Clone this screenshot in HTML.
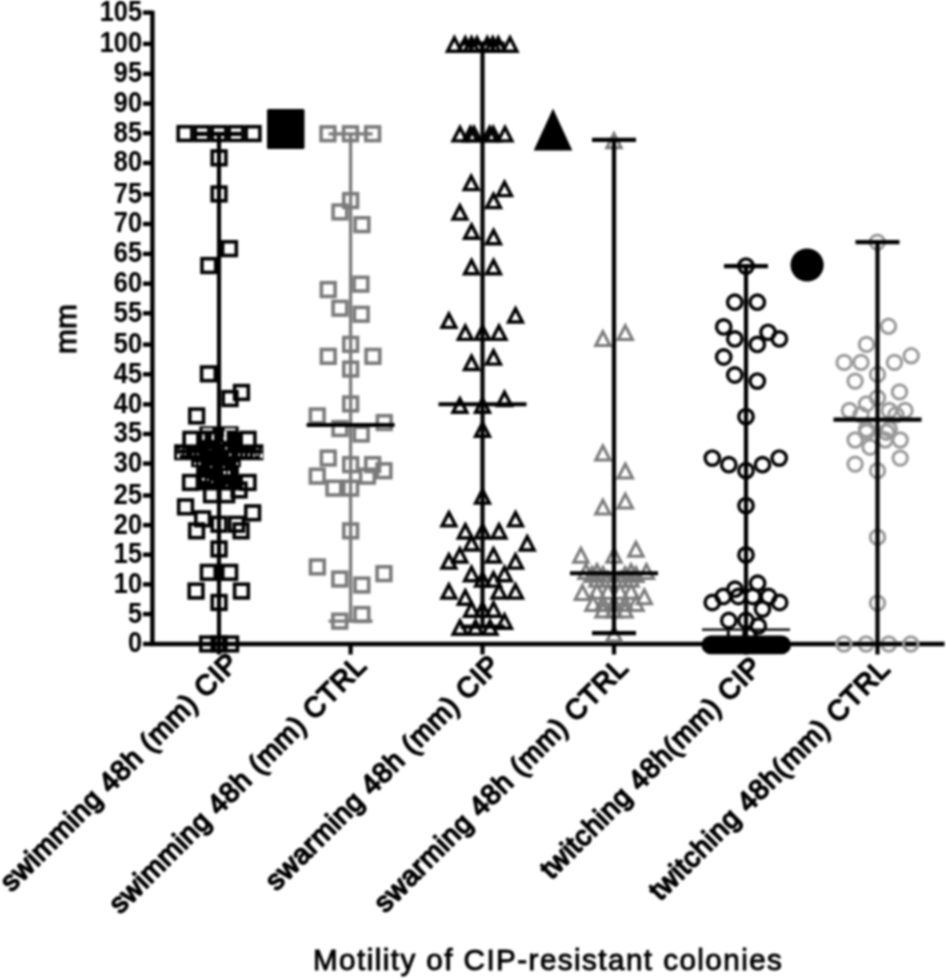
<!DOCTYPE html>
<html><head><meta charset="utf-8"><style>
html,body{margin:0;padding:0;background:#fff;}
body{width:946px;height:979px;overflow:hidden;}
svg{display:block;filter:blur(1px);}
text{font-family:"Liberation Sans",sans-serif;}
</style></head><body>
<svg width="946" height="979" viewBox="0 0 946 979">
<rect width="946" height="979" fill="#fff"/>
<g stroke="#000" stroke-width="4.4" fill="none">
<line x1="152.4" y1="10.7" x2="152.4" y2="645.5"/>
<line x1="151" y1="644" x2="944.5" y2="644"/>
<line x1="143" y1="644.0" x2="152.4" y2="644.0"/>
<line x1="143" y1="614.1" x2="152.4" y2="614.1"/>
<line x1="143" y1="584.4" x2="152.4" y2="584.4"/>
<line x1="143" y1="554.7" x2="152.4" y2="554.7"/>
<line x1="143" y1="525.1" x2="152.4" y2="525.1"/>
<line x1="143" y1="495.5" x2="152.4" y2="495.5"/>
<line x1="143" y1="463.6" x2="152.4" y2="463.6"/>
<line x1="143" y1="434.0" x2="152.4" y2="434.0"/>
<line x1="143" y1="404.4" x2="152.4" y2="404.4"/>
<line x1="143" y1="374.3" x2="152.4" y2="374.3"/>
<line x1="143" y1="344.6" x2="152.4" y2="344.6"/>
<line x1="143" y1="313.3" x2="152.4" y2="313.3"/>
<line x1="143" y1="283.7" x2="152.4" y2="283.7"/>
<line x1="143" y1="253.9" x2="152.4" y2="253.9"/>
<line x1="143" y1="224.0" x2="152.4" y2="224.0"/>
<line x1="143" y1="194.2" x2="152.4" y2="194.2"/>
<line x1="143" y1="163.0" x2="152.4" y2="163.0"/>
<line x1="143" y1="133.2" x2="152.4" y2="133.2"/>
<line x1="143" y1="103.6" x2="152.4" y2="103.6"/>
<line x1="143" y1="73.9" x2="152.4" y2="73.9"/>
<line x1="143" y1="43.9" x2="152.4" y2="43.9"/>
<line x1="143" y1="12.6" x2="152.4" y2="12.6"/>
<line x1="219.0" y1="644" x2="219.0" y2="654.5" stroke-width="4.2"/>
<line x1="350.6" y1="644" x2="350.6" y2="654.5" stroke-width="4.2"/>
<line x1="482.5" y1="644" x2="482.5" y2="654.5" stroke-width="4.2"/>
<line x1="614.0" y1="644" x2="614.0" y2="654.5" stroke-width="4.2"/>
<line x1="746.0" y1="644" x2="746.0" y2="654.5" stroke-width="4.2"/>
<line x1="877.5" y1="644" x2="877.5" y2="654.5" stroke-width="4.2"/>
</g>
<g font-family="Liberation Sans" font-weight="bold" font-size="29.5" text-anchor="end" fill="#000">
<text transform="translate(142 652.4) scale(0.86 1)">0</text>
<text transform="translate(142 622.5) scale(0.86 1)">5</text>
<text transform="translate(142 592.8) scale(0.86 1)">10</text>
<text transform="translate(142 563.1) scale(0.86 1)">15</text>
<text transform="translate(142 533.5) scale(0.86 1)">20</text>
<text transform="translate(142 503.9) scale(0.86 1)">25</text>
<text transform="translate(142 472.0) scale(0.86 1)">30</text>
<text transform="translate(142 442.4) scale(0.86 1)">35</text>
<text transform="translate(142 412.8) scale(0.86 1)">40</text>
<text transform="translate(142 382.7) scale(0.86 1)">45</text>
<text transform="translate(142 353.0) scale(0.86 1)">50</text>
<text transform="translate(142 321.7) scale(0.86 1)">55</text>
<text transform="translate(142 292.1) scale(0.86 1)">60</text>
<text transform="translate(142 262.3) scale(0.86 1)">65</text>
<text transform="translate(142 232.4) scale(0.86 1)">70</text>
<text transform="translate(142 202.6) scale(0.86 1)">75</text>
<text transform="translate(142 171.4) scale(0.86 1)">80</text>
<text transform="translate(142 141.6) scale(0.86 1)">85</text>
<text transform="translate(142 112.0) scale(0.86 1)">90</text>
<text transform="translate(142 82.3) scale(0.86 1)">95</text>
<text transform="translate(142 52.3) scale(0.86 1)">100</text>
<text transform="translate(142 21.0) scale(0.86 1)">105</text>
</g>
<path d="M199.4 426.3H238.6V432H255.4V444.3H263.4V460.3H240.8V467.3H238.9V474.4H255.4V490.6H182.7V474.4H196.1V467.3H191.1V460.3H174.1V444.3H182.7V432H199.4Z" fill="#000"/>
<rect x="184.2" y="432.5" width="13.7" height="13.7" fill="#fff" stroke="#000" stroke-width="3.6"/>
<rect x="241.2" y="432.5" width="13.7" height="13.7" fill="#fff" stroke="#000" stroke-width="3.6"/>
<rect x="183.7" y="475.6" width="13.7" height="13.7" fill="#fff" stroke="#000" stroke-width="3.6"/>
<rect x="241.2" y="475.6" width="13.7" height="13.7" fill="#fff" stroke="#000" stroke-width="3.6"/>
<rect x="202.5" y="428.3" width="10" height="2.2" fill="#fff"/>
<rect x="224.6" y="428.3" width="11" height="2.2" fill="#fff"/>
<rect x="202.3" y="434.5" width="2.2" height="5.5" fill="#fff"/>
<rect x="211.8" y="434.5" width="2.2" height="5.5" fill="#fff"/>
<rect x="224" y="431" width="2.6" height="10" fill="#fff"/>
<rect x="177" y="449" width="2.6" height="9" fill="#fff"/>
<rect x="260" y="449" width="2.6" height="9" fill="#fff"/>
<rect x="180.5" y="448" width="1.6" height="7" fill="#fff"/>
<rect x="184.5" y="449" width="1.4" height="6" fill="#fff"/>
<rect x="192.5" y="450" width="1.4" height="5" fill="#fff"/>
<rect x="197" y="451" width="1.4" height="4" fill="#fff"/>
<rect x="208.5" y="449.5" width="3.6" height="3.4" fill="#fff"/>
<rect x="225.5" y="447" width="1.6" height="3" fill="#fff"/>
<rect x="229.5" y="453" width="1.6" height="3" fill="#fff"/>
<rect x="238.5" y="452" width="1.4" height="4" fill="#fff"/>
<rect x="243" y="451" width="1.4" height="5" fill="#fff"/>
<rect x="248" y="450" width="1.6" height="6" fill="#fff"/>
<rect x="253.3" y="450" width="1.4" height="7" fill="#fff"/>
<rect x="256.5" y="448" width="1.6" height="8" fill="#fff"/>
<rect x="194" y="462.5" width="2" height="2.2" fill="#fff"/>
<rect x="198.5" y="462.5" width="2" height="2.2" fill="#fff"/>
<rect x="210.5" y="466" width="1.4" height="1.6" fill="#fff"/>
<rect x="217" y="466" width="1.4" height="1.6" fill="#fff"/>
<rect x="223" y="466" width="1.4" height="1.6" fill="#fff"/>
<rect x="236.5" y="462.5" width="1.8" height="2.4" fill="#fff"/>
<rect x="223.6" y="471" width="2.2" height="3.2" fill="#fff"/>
<rect x="227.8" y="471" width="2.2" height="3.2" fill="#fff"/>
<rect x="202" y="478" width="2.5" height="2.5" fill="#fff"/>
<rect x="207" y="479" width="1.5" height="1.5" fill="#fff"/>
<rect x="211.5" y="481" width="1.5" height="1.5" fill="#fff"/>
<rect x="219" y="479" width="1.5" height="2.5" fill="#fff"/>
<rect x="213" y="487.5" width="2.5" height="1.5" fill="#fff"/>
<rect x="226" y="485" width="1.5" height="2" fill="#fff"/>
<rect x="219.5" y="442" width="2" height="2" fill="#fff"/>
<rect x="223.5" y="437" width="1.5" height="2.5" fill="#fff"/>
<rect x="178.2" y="126.7" width="13.7" height="13.7" fill="none" stroke="#000" stroke-width="3.6"/>
<rect x="195.2" y="126.7" width="13.7" height="13.7" fill="none" stroke="#000" stroke-width="3.6"/>
<rect x="212.2" y="126.7" width="13.7" height="13.7" fill="none" stroke="#000" stroke-width="3.6"/>
<rect x="229.2" y="126.7" width="13.7" height="13.7" fill="none" stroke="#000" stroke-width="3.6"/>
<rect x="246.2" y="126.7" width="13.7" height="13.7" fill="none" stroke="#000" stroke-width="3.6"/>
<rect x="212.2" y="151.0" width="13.7" height="13.7" fill="none" stroke="#000" stroke-width="3.6"/>
<rect x="212.2" y="187.1" width="13.7" height="13.7" fill="none" stroke="#000" stroke-width="3.6"/>
<rect x="222.6" y="241.8" width="13.7" height="13.7" fill="none" stroke="#000" stroke-width="3.6"/>
<rect x="202.0" y="258.7" width="13.7" height="13.7" fill="none" stroke="#000" stroke-width="3.6"/>
<rect x="201.6" y="367.0" width="13.7" height="13.7" fill="none" stroke="#000" stroke-width="3.6"/>
<rect x="234.6" y="385.6" width="13.7" height="13.7" fill="none" stroke="#000" stroke-width="3.6"/>
<rect x="223.2" y="391.7" width="13.7" height="13.7" fill="none" stroke="#000" stroke-width="3.6"/>
<rect x="189.8" y="409.1" width="13.7" height="13.7" fill="none" stroke="#000" stroke-width="3.6"/>
<rect x="232.2" y="483.1" width="13.7" height="13.7" fill="none" stroke="#000" stroke-width="3.6"/>
<rect x="204.7" y="487.9" width="13.7" height="13.7" fill="none" stroke="#000" stroke-width="3.6"/>
<rect x="219.8" y="487.9" width="13.7" height="13.7" fill="none" stroke="#000" stroke-width="3.6"/>
<rect x="178.7" y="500.0" width="13.7" height="13.7" fill="none" stroke="#000" stroke-width="3.6"/>
<rect x="245.8" y="506.0" width="13.7" height="13.7" fill="none" stroke="#000" stroke-width="3.6"/>
<rect x="195.8" y="512.0" width="13.7" height="13.7" fill="none" stroke="#000" stroke-width="3.6"/>
<rect x="212.2" y="517.4" width="13.7" height="13.7" fill="none" stroke="#000" stroke-width="3.6"/>
<rect x="229.7" y="517.4" width="13.7" height="13.7" fill="none" stroke="#000" stroke-width="3.6"/>
<rect x="189.7" y="524.0" width="13.7" height="13.7" fill="none" stroke="#000" stroke-width="3.6"/>
<rect x="234.2" y="524.0" width="13.7" height="13.7" fill="none" stroke="#000" stroke-width="3.6"/>
<rect x="212.2" y="542.1" width="13.7" height="13.7" fill="none" stroke="#000" stroke-width="3.6"/>
<rect x="201.5" y="565.5" width="13.7" height="13.7" fill="none" stroke="#000" stroke-width="3.6"/>
<rect x="222.8" y="565.5" width="13.7" height="13.7" fill="none" stroke="#000" stroke-width="3.6"/>
<rect x="189.2" y="584.2" width="13.7" height="13.7" fill="none" stroke="#000" stroke-width="3.6"/>
<rect x="234.6" y="584.2" width="13.7" height="13.7" fill="none" stroke="#000" stroke-width="3.6"/>
<rect x="212.2" y="595.6" width="13.7" height="13.7" fill="none" stroke="#000" stroke-width="3.6"/>
<rect x="200.8" y="637.1" width="13.7" height="13.7" fill="none" stroke="#000" stroke-width="3.6"/>
<rect x="212.2" y="637.1" width="13.7" height="13.7" fill="none" stroke="#000" stroke-width="3.6"/>
<rect x="223.7" y="637.1" width="13.7" height="13.7" fill="none" stroke="#000" stroke-width="3.6"/>
<rect x="321.1" y="126.9" width="13.7" height="13.7" fill="none" stroke="#7a7a7a" stroke-width="3.6"/>
<rect x="343.6" y="126.9" width="13.7" height="13.7" fill="none" stroke="#7a7a7a" stroke-width="3.6"/>
<rect x="365.8" y="126.9" width="13.7" height="13.7" fill="none" stroke="#7a7a7a" stroke-width="3.6"/>
<rect x="343.8" y="193.7" width="13.7" height="13.7" fill="none" stroke="#7a7a7a" stroke-width="3.6"/>
<rect x="333.1" y="205.1" width="13.7" height="13.7" fill="none" stroke="#7a7a7a" stroke-width="3.6"/>
<rect x="355.1" y="217.8" width="13.7" height="13.7" fill="none" stroke="#7a7a7a" stroke-width="3.6"/>
<rect x="354.1" y="277.3" width="13.7" height="13.7" fill="none" stroke="#7a7a7a" stroke-width="3.6"/>
<rect x="321.4" y="282.7" width="13.7" height="13.7" fill="none" stroke="#7a7a7a" stroke-width="3.6"/>
<rect x="333.1" y="301.4" width="13.7" height="13.7" fill="none" stroke="#7a7a7a" stroke-width="3.6"/>
<rect x="354.4" y="307.4" width="13.7" height="13.7" fill="none" stroke="#7a7a7a" stroke-width="3.6"/>
<rect x="343.8" y="337.5" width="13.7" height="13.7" fill="none" stroke="#7a7a7a" stroke-width="3.6"/>
<rect x="321.4" y="349.5" width="13.7" height="13.7" fill="none" stroke="#7a7a7a" stroke-width="3.6"/>
<rect x="366.1" y="349.5" width="13.7" height="13.7" fill="none" stroke="#7a7a7a" stroke-width="3.6"/>
<rect x="343.8" y="362.2" width="13.7" height="13.7" fill="none" stroke="#7a7a7a" stroke-width="3.6"/>
<rect x="343.8" y="397.1" width="13.7" height="13.7" fill="none" stroke="#7a7a7a" stroke-width="3.6"/>
<rect x="310.4" y="409.1" width="13.7" height="13.7" fill="none" stroke="#7a7a7a" stroke-width="3.6"/>
<rect x="377.4" y="415.7" width="13.7" height="13.7" fill="none" stroke="#7a7a7a" stroke-width="3.6"/>
<rect x="333.1" y="421.7" width="13.7" height="13.7" fill="none" stroke="#7a7a7a" stroke-width="3.6"/>
<rect x="354.4" y="427.2" width="13.7" height="13.7" fill="none" stroke="#7a7a7a" stroke-width="3.6"/>
<rect x="321.4" y="451.2" width="13.7" height="13.7" fill="none" stroke="#7a7a7a" stroke-width="3.6"/>
<rect x="343.8" y="457.8" width="13.7" height="13.7" fill="none" stroke="#7a7a7a" stroke-width="3.6"/>
<rect x="365.8" y="457.8" width="13.7" height="13.7" fill="none" stroke="#7a7a7a" stroke-width="3.6"/>
<rect x="377.1" y="463.9" width="13.7" height="13.7" fill="none" stroke="#7a7a7a" stroke-width="3.6"/>
<rect x="310.4" y="469.3" width="13.7" height="13.7" fill="none" stroke="#7a7a7a" stroke-width="3.6"/>
<rect x="360.6" y="469.3" width="13.7" height="13.7" fill="none" stroke="#7a7a7a" stroke-width="3.6"/>
<rect x="327.1" y="481.3" width="13.7" height="13.7" fill="none" stroke="#7a7a7a" stroke-width="3.6"/>
<rect x="343.8" y="481.3" width="13.7" height="13.7" fill="none" stroke="#7a7a7a" stroke-width="3.6"/>
<rect x="343.8" y="524.0" width="13.7" height="13.7" fill="none" stroke="#7a7a7a" stroke-width="3.6"/>
<rect x="310.5" y="560.1" width="13.7" height="13.7" fill="none" stroke="#7a7a7a" stroke-width="3.6"/>
<rect x="377.1" y="566.8" width="13.7" height="13.7" fill="none" stroke="#7a7a7a" stroke-width="3.6"/>
<rect x="332.9" y="572.2" width="13.7" height="13.7" fill="none" stroke="#7a7a7a" stroke-width="3.6"/>
<rect x="355.0" y="578.2" width="13.7" height="13.7" fill="none" stroke="#7a7a7a" stroke-width="3.6"/>
<rect x="355.0" y="607.7" width="13.7" height="13.7" fill="none" stroke="#7a7a7a" stroke-width="3.6"/>
<rect x="332.9" y="614.3" width="13.7" height="13.7" fill="none" stroke="#7a7a7a" stroke-width="3.6"/>
<path d="M454.4 37.8L461.3 51.2L447.5 51.2Z" fill="none" stroke="#000" stroke-width="3.4" stroke-linejoin="miter" stroke-miterlimit="10"/>
<path d="M465.3 37.8L472.2 51.2L458.4 51.2Z" fill="none" stroke="#000" stroke-width="3.4" stroke-linejoin="miter" stroke-miterlimit="10"/>
<path d="M471.5 37.8L478.4 51.2L464.6 51.2Z" fill="none" stroke="#000" stroke-width="3.4" stroke-linejoin="miter" stroke-miterlimit="10"/>
<path d="M477.0 37.8L483.9 51.2L470.1 51.2Z" fill="none" stroke="#000" stroke-width="3.4" stroke-linejoin="miter" stroke-miterlimit="10"/>
<path d="M487.3 37.8L494.2 51.2L480.4 51.2Z" fill="none" stroke="#000" stroke-width="3.4" stroke-linejoin="miter" stroke-miterlimit="10"/>
<path d="M492.8 37.8L499.7 51.2L485.9 51.2Z" fill="none" stroke="#000" stroke-width="3.4" stroke-linejoin="miter" stroke-miterlimit="10"/>
<path d="M498.3 37.8L505.2 51.2L491.4 51.2Z" fill="none" stroke="#000" stroke-width="3.4" stroke-linejoin="miter" stroke-miterlimit="10"/>
<path d="M510.0 37.8L516.9 51.2L503.1 51.2Z" fill="none" stroke="#000" stroke-width="3.4" stroke-linejoin="miter" stroke-miterlimit="10"/>
<path d="M460.0 127.5L466.9 140.9L453.1 140.9Z" fill="none" stroke="#000" stroke-width="3.4" stroke-linejoin="miter" stroke-miterlimit="10"/>
<path d="M470.4 127.5L477.3 140.9L463.5 140.9Z" fill="none" stroke="#000" stroke-width="3.4" stroke-linejoin="miter" stroke-miterlimit="10"/>
<path d="M474.0 127.5L480.9 140.9L467.1 140.9Z" fill="none" stroke="#000" stroke-width="3.4" stroke-linejoin="miter" stroke-miterlimit="10"/>
<path d="M489.7 127.5L496.6 140.9L482.8 140.9Z" fill="none" stroke="#000" stroke-width="3.4" stroke-linejoin="miter" stroke-miterlimit="10"/>
<path d="M493.3 127.5L500.2 140.9L486.4 140.9Z" fill="none" stroke="#000" stroke-width="3.4" stroke-linejoin="miter" stroke-miterlimit="10"/>
<path d="M505.0 127.5L511.9 140.9L498.1 140.9Z" fill="none" stroke="#000" stroke-width="3.4" stroke-linejoin="miter" stroke-miterlimit="10"/>
<path d="M471.2 176.2L478.1 189.6L464.3 189.6Z" fill="none" stroke="#000" stroke-width="3.4" stroke-linejoin="miter" stroke-miterlimit="10"/>
<path d="M504.5 182.2L511.4 195.6L497.6 195.6Z" fill="none" stroke="#000" stroke-width="3.4" stroke-linejoin="miter" stroke-miterlimit="10"/>
<path d="M493.5 194.3L500.4 207.6L486.6 207.6Z" fill="none" stroke="#000" stroke-width="3.4" stroke-linejoin="miter" stroke-miterlimit="10"/>
<path d="M459.9 205.7L466.8 219.1L453.0 219.1Z" fill="none" stroke="#000" stroke-width="3.4" stroke-linejoin="miter" stroke-miterlimit="10"/>
<path d="M471.5 224.9L478.4 238.3L464.6 238.3Z" fill="none" stroke="#000" stroke-width="3.4" stroke-linejoin="miter" stroke-miterlimit="10"/>
<path d="M493.5 230.4L500.4 243.7L486.6 243.7Z" fill="none" stroke="#000" stroke-width="3.4" stroke-linejoin="miter" stroke-miterlimit="10"/>
<path d="M471.5 260.4L478.4 273.8L464.6 273.8Z" fill="none" stroke="#000" stroke-width="3.4" stroke-linejoin="miter" stroke-miterlimit="10"/>
<path d="M493.5 260.4L500.4 273.8L486.6 273.8Z" fill="none" stroke="#000" stroke-width="3.4" stroke-linejoin="miter" stroke-miterlimit="10"/>
<path d="M515.5 308.6L522.4 322.0L508.6 322.0Z" fill="none" stroke="#000" stroke-width="3.4" stroke-linejoin="miter" stroke-miterlimit="10"/>
<path d="M448.9 314.0L455.8 327.4L442.0 327.4Z" fill="none" stroke="#000" stroke-width="3.4" stroke-linejoin="miter" stroke-miterlimit="10"/>
<path d="M465.3 326.0L472.2 339.4L458.4 339.4Z" fill="none" stroke="#000" stroke-width="3.4" stroke-linejoin="miter" stroke-miterlimit="10"/>
<path d="M482.5 326.0L489.4 339.4L475.6 339.4Z" fill="none" stroke="#000" stroke-width="3.4" stroke-linejoin="miter" stroke-miterlimit="10"/>
<path d="M499.0 326.0L505.9 339.4L492.1 339.4Z" fill="none" stroke="#000" stroke-width="3.4" stroke-linejoin="miter" stroke-miterlimit="10"/>
<path d="M493.5 350.7L500.4 364.1L486.6 364.1Z" fill="none" stroke="#000" stroke-width="3.4" stroke-linejoin="miter" stroke-miterlimit="10"/>
<path d="M471.5 356.1L478.4 369.5L464.6 369.5Z" fill="none" stroke="#000" stroke-width="3.4" stroke-linejoin="miter" stroke-miterlimit="10"/>
<path d="M504.5 392.2L511.4 405.6L497.6 405.6Z" fill="none" stroke="#000" stroke-width="3.4" stroke-linejoin="miter" stroke-miterlimit="10"/>
<path d="M459.9 398.8L466.8 412.2L453.0 412.2Z" fill="none" stroke="#000" stroke-width="3.4" stroke-linejoin="miter" stroke-miterlimit="10"/>
<path d="M482.5 398.8L489.4 412.2L475.6 412.2Z" fill="none" stroke="#000" stroke-width="3.4" stroke-linejoin="miter" stroke-miterlimit="10"/>
<path d="M482.5 422.9L489.4 436.3L475.6 436.3Z" fill="none" stroke="#000" stroke-width="3.4" stroke-linejoin="miter" stroke-miterlimit="10"/>
<path d="M482.5 489.7L489.4 503.1L475.6 503.1Z" fill="none" stroke="#000" stroke-width="3.4" stroke-linejoin="miter" stroke-miterlimit="10"/>
<path d="M448.9 512.6L455.8 525.9L442.0 525.9Z" fill="none" stroke="#000" stroke-width="3.4" stroke-linejoin="miter" stroke-miterlimit="10"/>
<path d="M515.5 512.6L522.4 525.9L508.6 525.9Z" fill="none" stroke="#000" stroke-width="3.4" stroke-linejoin="miter" stroke-miterlimit="10"/>
<path d="M465.3 524.6L472.2 538.0L458.4 538.0Z" fill="none" stroke="#000" stroke-width="3.4" stroke-linejoin="miter" stroke-miterlimit="10"/>
<path d="M482.5 524.6L489.4 538.0L475.6 538.0Z" fill="none" stroke="#000" stroke-width="3.4" stroke-linejoin="miter" stroke-miterlimit="10"/>
<path d="M499.0 524.6L505.9 538.0L492.1 538.0Z" fill="none" stroke="#000" stroke-width="3.4" stroke-linejoin="miter" stroke-miterlimit="10"/>
<path d="M471.5 536.6L478.4 550.0L464.6 550.0Z" fill="none" stroke="#000" stroke-width="3.4" stroke-linejoin="miter" stroke-miterlimit="10"/>
<path d="M527.2 536.6L534.1 550.0L520.3 550.0Z" fill="none" stroke="#000" stroke-width="3.4" stroke-linejoin="miter" stroke-miterlimit="10"/>
<path d="M459.9 548.7L466.8 562.0L453.0 562.0Z" fill="none" stroke="#000" stroke-width="3.4" stroke-linejoin="miter" stroke-miterlimit="10"/>
<path d="M493.5 548.7L500.4 562.0L486.6 562.0Z" fill="none" stroke="#000" stroke-width="3.4" stroke-linejoin="miter" stroke-miterlimit="10"/>
<path d="M448.9 554.7L455.8 568.1L442.0 568.1Z" fill="none" stroke="#000" stroke-width="3.4" stroke-linejoin="miter" stroke-miterlimit="10"/>
<path d="M515.5 554.7L522.4 568.1L508.6 568.1Z" fill="none" stroke="#000" stroke-width="3.4" stroke-linejoin="miter" stroke-miterlimit="10"/>
<path d="M471.5 567.3L478.4 580.7L464.6 580.7Z" fill="none" stroke="#000" stroke-width="3.4" stroke-linejoin="miter" stroke-miterlimit="10"/>
<path d="M504.5 567.3L511.4 580.7L497.6 580.7Z" fill="none" stroke="#000" stroke-width="3.4" stroke-linejoin="miter" stroke-miterlimit="10"/>
<path d="M482.5 572.7L489.4 586.1L475.6 586.1Z" fill="none" stroke="#000" stroke-width="3.4" stroke-linejoin="miter" stroke-miterlimit="10"/>
<path d="M493.5 572.7L500.4 586.1L486.6 586.1Z" fill="none" stroke="#000" stroke-width="3.4" stroke-linejoin="miter" stroke-miterlimit="10"/>
<path d="M448.9 584.8L455.8 598.1L442.0 598.1Z" fill="none" stroke="#000" stroke-width="3.4" stroke-linejoin="miter" stroke-miterlimit="10"/>
<path d="M499.0 584.8L505.9 598.1L492.1 598.1Z" fill="none" stroke="#000" stroke-width="3.4" stroke-linejoin="miter" stroke-miterlimit="10"/>
<path d="M515.5 584.8L522.4 598.1L508.6 598.1Z" fill="none" stroke="#000" stroke-width="3.4" stroke-linejoin="miter" stroke-miterlimit="10"/>
<path d="M465.3 590.8L472.2 604.2L458.4 604.2Z" fill="none" stroke="#000" stroke-width="3.4" stroke-linejoin="miter" stroke-miterlimit="10"/>
<path d="M471.5 602.8L478.4 616.2L464.6 616.2Z" fill="none" stroke="#000" stroke-width="3.4" stroke-linejoin="miter" stroke-miterlimit="10"/>
<path d="M482.5 602.8L489.4 616.2L475.6 616.2Z" fill="none" stroke="#000" stroke-width="3.4" stroke-linejoin="miter" stroke-miterlimit="10"/>
<path d="M493.5 602.8L500.4 616.2L486.6 616.2Z" fill="none" stroke="#000" stroke-width="3.4" stroke-linejoin="miter" stroke-miterlimit="10"/>
<path d="M504.5 614.8L511.4 628.2L497.6 628.2Z" fill="none" stroke="#000" stroke-width="3.4" stroke-linejoin="miter" stroke-miterlimit="10"/>
<path d="M460.0 620.9L466.9 634.3L453.1 634.3Z" fill="none" stroke="#000" stroke-width="3.4" stroke-linejoin="miter" stroke-miterlimit="10"/>
<path d="M475.5 620.9L482.4 634.3L468.6 634.3Z" fill="none" stroke="#000" stroke-width="3.4" stroke-linejoin="miter" stroke-miterlimit="10"/>
<path d="M490.0 620.9L496.9 634.3L483.1 634.3Z" fill="none" stroke="#000" stroke-width="3.4" stroke-linejoin="miter" stroke-miterlimit="10"/>
<path d="M614.0 133.6L621.2 147.7L606.8 147.7Z" fill="none" stroke="#7a7a7a" stroke-width="3.0" stroke-linejoin="miter" stroke-miterlimit="10"/>
<path d="M625.3 325.6L632.5 339.6L618.1 339.6Z" fill="none" stroke="#7a7a7a" stroke-width="3.0" stroke-linejoin="miter" stroke-miterlimit="10"/>
<path d="M602.9 331.6L610.1 345.6L595.7 345.6Z" fill="none" stroke="#7a7a7a" stroke-width="3.0" stroke-linejoin="miter" stroke-miterlimit="10"/>
<path d="M602.9 445.9L610.1 460.0L595.7 460.0Z" fill="none" stroke="#7a7a7a" stroke-width="3.0" stroke-linejoin="miter" stroke-miterlimit="10"/>
<path d="M625.3 464.0L632.5 478.0L618.1 478.0Z" fill="none" stroke="#7a7a7a" stroke-width="3.0" stroke-linejoin="miter" stroke-miterlimit="10"/>
<path d="M625.3 494.1L632.5 508.1L618.1 508.1Z" fill="none" stroke="#7a7a7a" stroke-width="3.0" stroke-linejoin="miter" stroke-miterlimit="10"/>
<path d="M602.9 500.1L610.1 514.1L595.7 514.1Z" fill="none" stroke="#7a7a7a" stroke-width="3.0" stroke-linejoin="miter" stroke-miterlimit="10"/>
<path d="M635.9 542.2L643.1 556.2L628.7 556.2Z" fill="none" stroke="#7a7a7a" stroke-width="3.0" stroke-linejoin="miter" stroke-miterlimit="10"/>
<path d="M580.9 548.2L588.1 562.2L573.7 562.2Z" fill="none" stroke="#7a7a7a" stroke-width="3.0" stroke-linejoin="miter" stroke-miterlimit="10"/>
<path d="M614.0 548.2L621.2 562.2L606.8 562.2Z" fill="none" stroke="#7a7a7a" stroke-width="3.0" stroke-linejoin="miter" stroke-miterlimit="10"/>
<path d="M586.0 564.5L593.2 578.5L578.8 578.5Z" fill="none" stroke="#7a7a7a" stroke-width="3.0" stroke-linejoin="miter" stroke-miterlimit="10"/>
<path d="M597.0 564.5L604.2 578.5L589.8 578.5Z" fill="none" stroke="#7a7a7a" stroke-width="3.0" stroke-linejoin="miter" stroke-miterlimit="10"/>
<path d="M631.0 564.5L638.2 578.5L623.8 578.5Z" fill="none" stroke="#7a7a7a" stroke-width="3.0" stroke-linejoin="miter" stroke-miterlimit="10"/>
<path d="M646.4 564.5L653.6 578.5L639.2 578.5Z" fill="none" stroke="#7a7a7a" stroke-width="3.0" stroke-linejoin="miter" stroke-miterlimit="10"/>
<path d="M592.0 567.5L599.2 581.5L584.8 581.5Z" fill="none" stroke="#7a7a7a" stroke-width="3.0" stroke-linejoin="miter" stroke-miterlimit="10"/>
<path d="M603.0 567.5L610.2 581.5L595.8 581.5Z" fill="none" stroke="#7a7a7a" stroke-width="3.0" stroke-linejoin="miter" stroke-miterlimit="10"/>
<path d="M625.0 567.5L632.2 581.5L617.8 581.5Z" fill="none" stroke="#7a7a7a" stroke-width="3.0" stroke-linejoin="miter" stroke-miterlimit="10"/>
<path d="M636.0 567.5L643.2 581.5L628.8 581.5Z" fill="none" stroke="#7a7a7a" stroke-width="3.0" stroke-linejoin="miter" stroke-miterlimit="10"/>
<path d="M597.0 572.3L604.2 586.3L589.8 586.3Z" fill="none" stroke="#7a7a7a" stroke-width="3.0" stroke-linejoin="miter" stroke-miterlimit="10"/>
<path d="M608.0 572.3L615.2 586.3L600.8 586.3Z" fill="none" stroke="#7a7a7a" stroke-width="3.0" stroke-linejoin="miter" stroke-miterlimit="10"/>
<path d="M620.0 572.3L627.2 586.3L612.8 586.3Z" fill="none" stroke="#7a7a7a" stroke-width="3.0" stroke-linejoin="miter" stroke-miterlimit="10"/>
<path d="M631.0 572.3L638.2 586.3L623.8 586.3Z" fill="none" stroke="#7a7a7a" stroke-width="3.0" stroke-linejoin="miter" stroke-miterlimit="10"/>
<path d="M597.0 584.3L604.2 598.3L589.8 598.3Z" fill="none" stroke="#7a7a7a" stroke-width="3.0" stroke-linejoin="miter" stroke-miterlimit="10"/>
<path d="M608.0 584.3L615.2 598.3L600.8 598.3Z" fill="none" stroke="#7a7a7a" stroke-width="3.0" stroke-linejoin="miter" stroke-miterlimit="10"/>
<path d="M620.0 584.3L627.2 598.3L612.8 598.3Z" fill="none" stroke="#7a7a7a" stroke-width="3.0" stroke-linejoin="miter" stroke-miterlimit="10"/>
<path d="M631.0 584.3L638.2 598.3L623.8 598.3Z" fill="none" stroke="#7a7a7a" stroke-width="3.0" stroke-linejoin="miter" stroke-miterlimit="10"/>
<path d="M582.4 585.5L589.6 599.6L575.2 599.6Z" fill="none" stroke="#7a7a7a" stroke-width="3.0" stroke-linejoin="miter" stroke-miterlimit="10"/>
<path d="M644.3 589.7L651.5 603.8L637.1 603.8Z" fill="none" stroke="#7a7a7a" stroke-width="3.0" stroke-linejoin="miter" stroke-miterlimit="10"/>
<path d="M593.0 596.4L600.2 610.4L585.8 610.4Z" fill="none" stroke="#7a7a7a" stroke-width="3.0" stroke-linejoin="miter" stroke-miterlimit="10"/>
<path d="M603.0 596.4L610.2 610.4L595.8 610.4Z" fill="none" stroke="#7a7a7a" stroke-width="3.0" stroke-linejoin="miter" stroke-miterlimit="10"/>
<path d="M614.0 596.4L621.2 610.4L606.8 610.4Z" fill="none" stroke="#7a7a7a" stroke-width="3.0" stroke-linejoin="miter" stroke-miterlimit="10"/>
<path d="M625.0 596.4L632.2 610.4L617.8 610.4Z" fill="none" stroke="#7a7a7a" stroke-width="3.0" stroke-linejoin="miter" stroke-miterlimit="10"/>
<path d="M636.0 596.4L643.2 610.4L628.8 610.4Z" fill="none" stroke="#7a7a7a" stroke-width="3.0" stroke-linejoin="miter" stroke-miterlimit="10"/>
<path d="M603.0 603.0L610.2 617.0L595.8 617.0Z" fill="none" stroke="#7a7a7a" stroke-width="3.0" stroke-linejoin="miter" stroke-miterlimit="10"/>
<path d="M614.0 603.0L621.2 617.0L606.8 617.0Z" fill="none" stroke="#7a7a7a" stroke-width="3.0" stroke-linejoin="miter" stroke-miterlimit="10"/>
<path d="M625.0 603.0L632.2 617.0L617.8 617.0Z" fill="none" stroke="#7a7a7a" stroke-width="3.0" stroke-linejoin="miter" stroke-miterlimit="10"/>
<path d="M614.0 627.0L621.2 641.1L606.8 641.1Z" fill="none" stroke="#7a7a7a" stroke-width="3.0" stroke-linejoin="miter" stroke-miterlimit="10"/>
<circle cx="746.0" cy="266.1" r="7.2" fill="none" stroke="#000" stroke-width="3.4"/>
<circle cx="734.8" cy="302.2" r="7.2" fill="none" stroke="#000" stroke-width="3.4"/>
<circle cx="757.3" cy="302.2" r="7.2" fill="none" stroke="#000" stroke-width="3.4"/>
<circle cx="723.7" cy="326.9" r="7.2" fill="none" stroke="#000" stroke-width="3.4"/>
<circle cx="768.0" cy="332.3" r="7.2" fill="none" stroke="#000" stroke-width="3.4"/>
<circle cx="734.8" cy="338.9" r="7.2" fill="none" stroke="#000" stroke-width="3.4"/>
<circle cx="779.4" cy="338.9" r="7.2" fill="none" stroke="#000" stroke-width="3.4"/>
<circle cx="757.3" cy="344.4" r="7.2" fill="none" stroke="#000" stroke-width="3.4"/>
<circle cx="723.7" cy="357.0" r="7.2" fill="none" stroke="#000" stroke-width="3.4"/>
<circle cx="734.8" cy="375.0" r="7.2" fill="none" stroke="#000" stroke-width="3.4"/>
<circle cx="757.3" cy="381.1" r="7.2" fill="none" stroke="#000" stroke-width="3.4"/>
<circle cx="746.0" cy="416.6" r="7.2" fill="none" stroke="#000" stroke-width="3.4"/>
<circle cx="712.3" cy="458.1" r="7.2" fill="none" stroke="#000" stroke-width="3.4"/>
<circle cx="779.2" cy="458.1" r="7.2" fill="none" stroke="#000" stroke-width="3.4"/>
<circle cx="728.8" cy="464.7" r="7.2" fill="none" stroke="#000" stroke-width="3.4"/>
<circle cx="762.5" cy="464.7" r="7.2" fill="none" stroke="#000" stroke-width="3.4"/>
<circle cx="746.0" cy="470.7" r="7.2" fill="none" stroke="#000" stroke-width="3.4"/>
<circle cx="746.0" cy="505.6" r="7.2" fill="none" stroke="#000" stroke-width="3.4"/>
<circle cx="746.0" cy="554.9" r="7.2" fill="none" stroke="#000" stroke-width="3.4"/>
<circle cx="757.6" cy="583.2" r="7.2" fill="none" stroke="#000" stroke-width="3.4"/>
<circle cx="735.0" cy="589.2" r="7.2" fill="none" stroke="#000" stroke-width="3.4"/>
<circle cx="723.3" cy="596.5" r="7.2" fill="none" stroke="#000" stroke-width="3.4"/>
<circle cx="738.4" cy="596.5" r="7.2" fill="none" stroke="#000" stroke-width="3.4"/>
<circle cx="752.8" cy="596.5" r="7.2" fill="none" stroke="#000" stroke-width="3.4"/>
<circle cx="768.6" cy="596.5" r="7.2" fill="none" stroke="#000" stroke-width="3.4"/>
<circle cx="712.3" cy="602.5" r="7.2" fill="none" stroke="#000" stroke-width="3.4"/>
<circle cx="779.6" cy="602.5" r="7.2" fill="none" stroke="#000" stroke-width="3.4"/>
<circle cx="762.5" cy="609.1" r="7.2" fill="none" stroke="#000" stroke-width="3.4"/>
<circle cx="728.8" cy="620.5" r="7.2" fill="none" stroke="#000" stroke-width="3.4"/>
<circle cx="746.0" cy="620.5" r="7.2" fill="none" stroke="#000" stroke-width="3.4"/>
<circle cx="758.3" cy="625.9" r="7.2" fill="none" stroke="#000" stroke-width="3.4"/>
<rect x="701.5" y="635.6" width="89.5" height="18.6" rx="9.3" fill="#000"/>
<rect x="726.8" y="630.5" width="3" height="6" fill="#000"/>
<rect x="742.3" y="630.5" width="3.6" height="6" fill="#000"/>
<rect x="753.5" y="631" width="4" height="5" fill="#000"/>
<circle cx="877.3" cy="242.1" r="7.2" fill="none" stroke="#999" stroke-width="3.0"/>
<circle cx="888.5" cy="326.3" r="7.2" fill="none" stroke="#999" stroke-width="3.0"/>
<circle cx="866.5" cy="344.4" r="7.2" fill="none" stroke="#999" stroke-width="3.0"/>
<circle cx="911.2" cy="355.8" r="7.2" fill="none" stroke="#999" stroke-width="3.0"/>
<circle cx="844.1" cy="362.4" r="7.2" fill="none" stroke="#999" stroke-width="3.0"/>
<circle cx="861.0" cy="362.4" r="7.2" fill="none" stroke="#999" stroke-width="3.0"/>
<circle cx="894.4" cy="362.4" r="7.2" fill="none" stroke="#999" stroke-width="3.0"/>
<circle cx="877.5" cy="374.4" r="7.2" fill="none" stroke="#999" stroke-width="3.0"/>
<circle cx="855.1" cy="381.1" r="7.2" fill="none" stroke="#999" stroke-width="3.0"/>
<circle cx="899.5" cy="391.9" r="7.2" fill="none" stroke="#999" stroke-width="3.0"/>
<circle cx="877.5" cy="397.9" r="7.2" fill="none" stroke="#999" stroke-width="3.0"/>
<circle cx="866.5" cy="403.9" r="7.2" fill="none" stroke="#999" stroke-width="3.0"/>
<circle cx="849.4" cy="410.5" r="7.2" fill="none" stroke="#999" stroke-width="3.0"/>
<circle cx="889.2" cy="410.5" r="7.2" fill="none" stroke="#999" stroke-width="3.0"/>
<circle cx="905.0" cy="410.5" r="7.2" fill="none" stroke="#999" stroke-width="3.0"/>
<circle cx="861.0" cy="414.8" r="7.2" fill="none" stroke="#999" stroke-width="3.0"/>
<circle cx="896.0" cy="414.8" r="7.2" fill="none" stroke="#999" stroke-width="3.0"/>
<circle cx="866.5" cy="429.2" r="7.2" fill="none" stroke="#999" stroke-width="3.0"/>
<circle cx="889.2" cy="429.2" r="7.2" fill="none" stroke="#999" stroke-width="3.0"/>
<circle cx="866.5" cy="432.2" r="7.2" fill="none" stroke="#999" stroke-width="3.0"/>
<circle cx="886.5" cy="432.2" r="7.2" fill="none" stroke="#999" stroke-width="3.0"/>
<circle cx="855.1" cy="440.0" r="7.2" fill="none" stroke="#999" stroke-width="3.0"/>
<circle cx="885.1" cy="440.0" r="7.2" fill="none" stroke="#999" stroke-width="3.0"/>
<circle cx="900.2" cy="440.0" r="7.2" fill="none" stroke="#999" stroke-width="3.0"/>
<circle cx="870.0" cy="447.2" r="7.2" fill="none" stroke="#999" stroke-width="3.0"/>
<circle cx="900.2" cy="458.1" r="7.2" fill="none" stroke="#999" stroke-width="3.0"/>
<circle cx="855.1" cy="464.1" r="7.2" fill="none" stroke="#999" stroke-width="3.0"/>
<circle cx="877.5" cy="470.7" r="7.2" fill="none" stroke="#999" stroke-width="3.0"/>
<circle cx="877.5" cy="537.2" r="7.2" fill="none" stroke="#999" stroke-width="3.0"/>
<circle cx="877.5" cy="603.1" r="7.2" fill="none" stroke="#999" stroke-width="3.0"/>
<circle cx="843.9" cy="644.0" r="7.2" fill="none" stroke="#999" stroke-width="3.0"/>
<circle cx="866.1" cy="644.0" r="7.2" fill="none" stroke="#999" stroke-width="3.0"/>
<circle cx="888.8" cy="644.0" r="7.2" fill="none" stroke="#999" stroke-width="3.0"/>
<circle cx="910.8" cy="644.0" r="7.2" fill="none" stroke="#999" stroke-width="3.0"/>
<line x1="219.0" y1="644.0" x2="219.0" y2="133.8" stroke="#000" stroke-width="4.2"/><line x1="197.0" y1="644.0" x2="241.0" y2="644.0" stroke="#000" stroke-width="4.2"/><line x1="197.0" y1="133.8" x2="241.0" y2="133.8" stroke="#000" stroke-width="4.2"/>
<line x1="350.6" y1="621.1" x2="350.6" y2="133.8" stroke="#7a7a7a" stroke-width="3.3"/><line x1="328.6" y1="621.1" x2="372.6" y2="621.1" stroke="#7a7a7a" stroke-width="3.3"/><line x1="328.6" y1="133.8" x2="372.6" y2="133.8" stroke="#7a7a7a" stroke-width="3.3"/>
<line x1="482.5" y1="626.6" x2="482.5" y2="43.5" stroke="#000" stroke-width="4.2"/><line x1="460.5" y1="626.6" x2="504.5" y2="626.6" stroke="#000" stroke-width="4.2"/><line x1="460.5" y1="43.5" x2="504.5" y2="43.5" stroke="#000" stroke-width="4.2"/>
<line x1="614.0" y1="633.2" x2="614.0" y2="139.8" stroke="#000" stroke-width="4.2"/><line x1="592.0" y1="633.2" x2="636.0" y2="633.2" stroke="#000" stroke-width="4.2"/><line x1="592.0" y1="139.8" x2="636.0" y2="139.8" stroke="#000" stroke-width="4.2"/>
<line x1="746.0" y1="644.0" x2="746.0" y2="266.1" stroke="#000" stroke-width="4.2"/><line x1="724.0" y1="644.0" x2="768.0" y2="644.0" stroke="#000" stroke-width="4.2"/><line x1="724.0" y1="266.1" x2="768.0" y2="266.1" stroke="#000" stroke-width="4.2"/>
<line x1="877.5" y1="644.0" x2="877.5" y2="242.1" stroke="#000" stroke-width="4.2"/><line x1="855.5" y1="644.0" x2="899.5" y2="644.0" stroke="#000" stroke-width="4.2"/><line x1="855.5" y1="242.1" x2="899.5" y2="242.1" stroke="#000" stroke-width="4.2"/>
<line x1="175.0" y1="451.5" x2="263.0" y2="451.5" stroke="#000" stroke-width="4.1"/>
<line x1="306.6" y1="425.0" x2="394.6" y2="425.0" stroke="#000" stroke-width="4.1"/>
<line x1="438.5" y1="404.2" x2="526.5" y2="404.2" stroke="#000" stroke-width="4.1"/>
<line x1="570.0" y1="573.3" x2="658.0" y2="573.3" stroke="#000" stroke-width="4.1"/>
<line x1="702.0" y1="629.6" x2="790.0" y2="629.6" stroke="#000" stroke-width="2.4"/>
<line x1="833.5" y1="419.6" x2="921.5" y2="419.6" stroke="#000" stroke-width="4.1"/>
<rect x="267" y="109" width="37.5" height="40" rx="1.5" fill="#000"/>
<path d="M553 108.5L572.3 150.5L533.7 150.5Z" fill="#000"/>
<circle cx="807.1" cy="265" r="16.6" fill="#000"/>
<text transform="translate(75.5 329) rotate(-90)" font-family="Liberation Sans" font-size="30" text-anchor="middle" fill="#000" stroke="#000" stroke-width="1.1">mm</text>
<text transform="translate(240.2 664.2) rotate(-45)" font-family="Liberation Sans" font-size="28" letter-spacing="0.8" text-anchor="end" fill="#000" stroke="#000" stroke-width="1.7">swimming 48h (mm) CIP</text>
<text transform="translate(368.1 667.0) rotate(-45)" font-family="Liberation Sans" font-size="28" letter-spacing="0.8" text-anchor="end" fill="#000" stroke="#000" stroke-width="1.7">swimming 48h (mm) CTRL</text>
<text transform="translate(501.9 666.5) rotate(-45)" font-family="Liberation Sans" font-size="28" letter-spacing="0.8" text-anchor="end" fill="#000" stroke="#000" stroke-width="1.7">swarming 48h (mm) CIP</text>
<text transform="translate(629.8 669.1) rotate(-45)" font-family="Liberation Sans" font-size="28" letter-spacing="0.8" text-anchor="end" fill="#000" stroke="#000" stroke-width="1.7">swarming 48h (mm) CTRL</text>
<text transform="translate(763.6 668.0) rotate(-45)" font-family="Liberation Sans" font-size="28" letter-spacing="0.8" text-anchor="end" fill="#000" stroke="#000" stroke-width="1.7">twitching 48h(mm) CIP</text>
<text transform="translate(891.7 670.2) rotate(-45)" font-family="Liberation Sans" font-size="28" letter-spacing="0.8" text-anchor="end" fill="#000" stroke="#000" stroke-width="1.7">twitching 48h(mm) CTRL</text>
<text x="313" y="969.8" font-family="Liberation Sans" font-size="29.6" letter-spacing="1.45" fill="#000" stroke="#000" stroke-width="0.9">Motility of CIP-resistant colonies</text>
</svg>
</body></html>
